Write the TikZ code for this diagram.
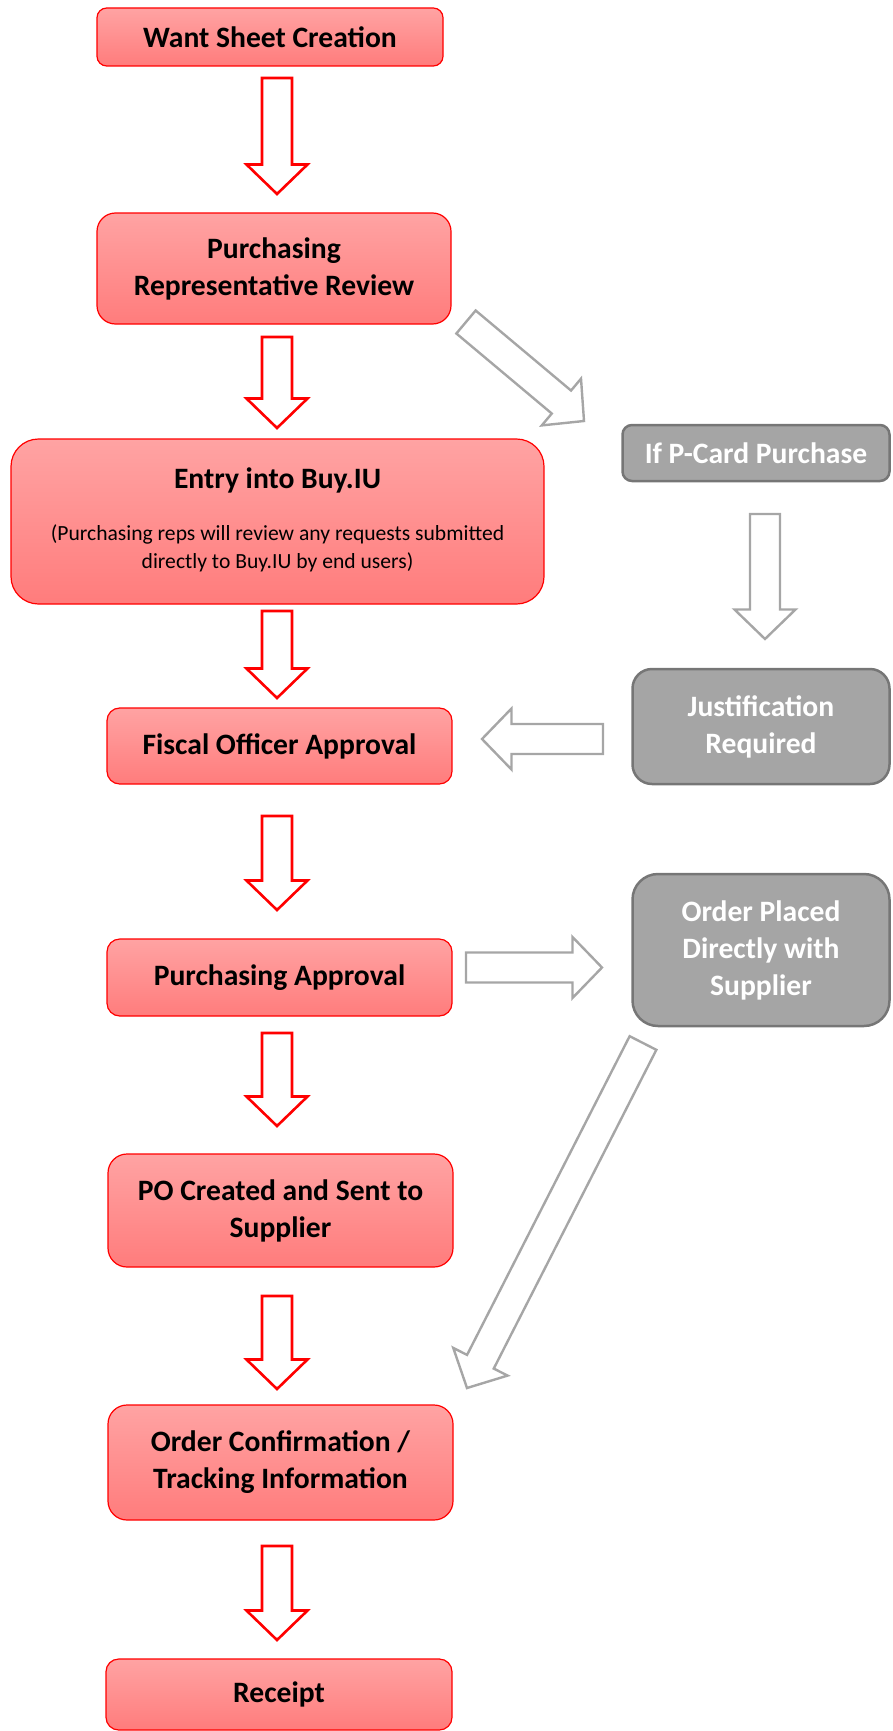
\documentclass[tikz,border=0pt]{standalone}
\usepackage{fontspec}
\setmainfont{Carlito}
\usetikzlibrary{calc}

\definecolor{boxtop}{RGB}{255,163,163}
\definecolor{boxbot}{RGB}{255,124,124}
\definecolor{gfill}{RGB}{165,165,165}
\definecolor{gline}{RGB}{118,118,118}
\definecolor{garrow}{RGB}{166,166,166}

% hollow block arrow: style, name, tail coordinate, tip coordinate
\newcommand\blockarrow[4]{%
  \coordinate (#2-b) at ($(#4)!29.5pt!(#3)$);
  \draw[#1] ($(#3)!15pt!90:(#4)$) -- ($(#2-b)!15pt!90:(#4)$)
    -- ($(#2-b)!30.5pt!90:(#4)$) -- (#4)
    -- ($(#2-b)!30.5pt!-90:(#4)$) -- ($(#2-b)!15pt!-90:(#4)$)
    -- ($(#3)!15pt!-90:(#4)$) -- cycle;
}

\begin{document}
\begin{tikzpicture}[x=1pt,y=-1pt,
  titlefont/.style={font=\bfseries\fontsize{29.6}{37}\selectfont},
  notefont/.style={font=\fontsize{21.6}{27.7}\selectfont},
  redbox/.style={draw=red, line width=1.2pt, top color=boxtop, bottom color=boxbot,
    inner sep=0pt, outer sep=0pt, align=center, titlefont},
  graybox/.style={draw=gline, line width=2.5pt, fill=gfill, text=white,
    inner sep=0pt, outer sep=0pt, align=center, titlefont},
  redarrow/.style={draw=red, fill=white, line width=2.6pt, line join=miter},
  grayarrow/.style={draw=garrow, fill=white, line width=2.4pt, line join=miter}]

\useasboundingbox (0,0) rectangle (892,1731);

% main flow
\node[redbox, minimum width=346, minimum height=58, rounded corners=9.7] (b1) at (270,37) {Want Sheet Creation};
\node[redbox, minimum width=354, minimum height=111, rounded corners=18.5] (b2) at (274,268.5) {Purchasing\\Representative Review};
\node[redbox, minimum width=533, minimum height=165, rounded corners=27.5] (b3) at (277.5,521.5) {};
\node[titlefont, inner sep=0pt] (b3t) at (277.5,480) {Entry into Buy.IU};
\node[notefont, align=center, inner sep=0pt] (b3n) at (277.5,548) {(Purchasing reps will review any requests submitted\\directly to Buy.IU by end users)};
\node[redbox, minimum width=345, minimum height=76, rounded corners=12.7] (b4) at (279.5,746) {Fiscal Officer Approval};
\node[redbox, minimum width=345, minimum height=77, rounded corners=12.8] (b5) at (279.5,977.5) {Purchasing Approval};
\node[redbox, minimum width=345, minimum height=113, rounded corners=19] (b6) at (280.5,1210.5) {PO Created and Sent to\\Supplier};
\node[redbox, minimum width=345, minimum height=115, rounded corners=19] (b7) at (280.5,1462.5) {Order Confirmation /\\Tracking Information};
\node[redbox, minimum width=346, minimum height=71, rounded corners=12.7] (b8) at (279,1694.5) {Receipt};

% side branch
\node[graybox, minimum width=267, minimum height=56, rounded corners=9.5] (g1) at (756,453) {If P-Card Purchase};
\node[graybox, minimum width=257, minimum height=115, rounded corners=19.5] (g2) at (761,726.5) {Justification\\Required};
\node[graybox, minimum width=257, minimum height=152, rounded corners=25.5] (g3) at (761,950) {Order Placed\\Directly with\\Supplier};

% arrow end points
\coordinate (a1t) at (277,78);   \coordinate (a1h) at (277,194);
\coordinate (a2t) at (277,337);  \coordinate (a2h) at (277,428);
\coordinate (a3t) at (277,611);  \coordinate (a3h) at (277,698);
\coordinate (a4t) at (277,816);  \coordinate (a4h) at (277,910);
\coordinate (a5t) at (277,1033); \coordinate (a5h) at (277,1126);
\coordinate (a6t) at (277,1296); \coordinate (a6h) at (277,1389);
\coordinate (a7t) at (277,1546); \coordinate (a7h) at (277,1640);

\coordinate (s1t) at (466,322);  \coordinate (s1h) at (584,421);
\coordinate (s2t) at (765,514);  \coordinate (s2h) at (765,639);
\coordinate (s3t) at (603,739);  \coordinate (s3h) at (482,739);
\coordinate (s4t) at (466,967.5);\coordinate (s4h) at (602,967.5);
\coordinate (s5t) at (643,1043); \coordinate (s5h) at (467,1388);

\blockarrow{redarrow}{a1}{a1t}{a1h}
\blockarrow{redarrow}{a2}{a2t}{a2h}
\blockarrow{redarrow}{a3}{a3t}{a3h}
\blockarrow{redarrow}{a4}{a4t}{a4h}
\blockarrow{redarrow}{a5}{a5t}{a5h}
\blockarrow{redarrow}{a6}{a6t}{a6h}
\blockarrow{redarrow}{a7}{a7t}{a7h}

\blockarrow{grayarrow}{s1}{s1t}{s1h}
\blockarrow{grayarrow}{s2}{s2t}{s2h}
\blockarrow{grayarrow}{s3}{s3t}{s3h}
\blockarrow{grayarrow}{s4}{s4t}{s4h}
\blockarrow{grayarrow}{s5}{s5t}{s5h}
\end{tikzpicture}
\end{document}
